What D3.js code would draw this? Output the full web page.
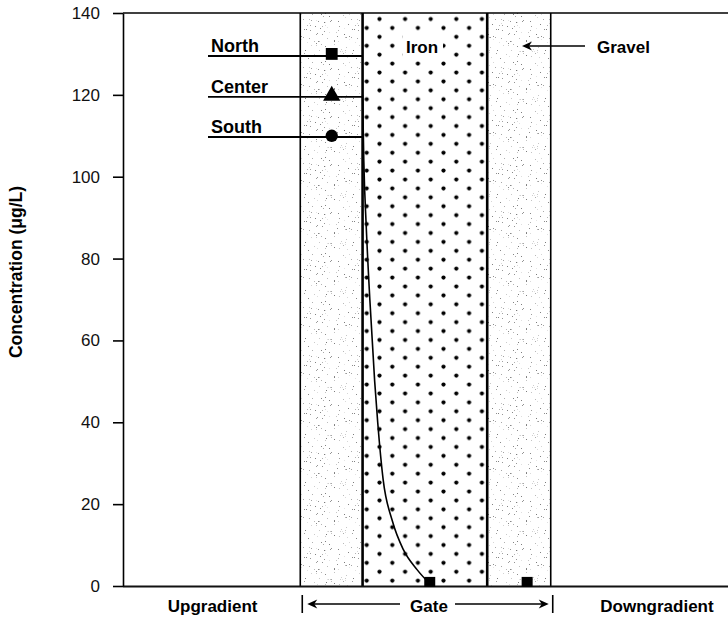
<!DOCTYPE html>
<html>
<head>
<meta charset="utf-8">
<script src="https://cdn.jsdelivr.net/npm/d3@7"></script>
<style>
  body { margin: 0; background: #fff; }
  svg { display: block; font-family: "Liberation Sans", Arial, Helvetica, sans-serif; }
</style>
</head>
<body>
<svg width="728" height="621"></svg>
<script>
'use strict';

/* concentration through a permeable reactive barrier (gravel / iron / gravel) */

// zone boundaries along the flow path (distance units, 0..100 across the plot)
const zoneEdges = [0, 29.3, 39.6, 60.2, 70.7, 100];
const zoneKinds = ['open', 'gravel', 'iron', 'gravel', 'open'];

// y axis
const yTicks = [0, 20, 40, 60, 80, 100, 120, 140];

// upgradient wells (in the front gravel)
const wellNames  = ['North', 'Center', 'South'];
const wellSymbol = ['square', 'triangle', 'circle'];
const wellX      = [34.5, 34.5, 34.5];
const wellConc   = [130, 120, 110];
const leaderConc = [129.5, 119.5, 109.7];

// samples at the foot of the barrier
const lowX    = [50.7, 66.8];
const lowConc = [1, 1];

// fitted profile through the iron
const profileX    = [39.6, 39.8, 40.2, 40.8, 41.6, 42.1, 43.0, 44.5, 46.3, 48.6, 50.4];
const profileConc = [120, 104, 88, 70, 50, 40, 26, 16, 9, 4, 1];

// bottom labels
const bottomLabels = ['Upgradient', 'Gate', 'Downgradient'];

/**************************************************************************/

var svg = d3.select('svg');
var plotLeft = 123, plotRight = 728, plotTop = 13, plotBottom = 586;

var x = d3.scaleLinear().domain([0, 100]).range([plotLeft, plotRight]);
var y = d3.scaleLinear().domain([0, 140]).range([plotBottom, plotTop]);

var defs = svg.append('defs');

// iron: staggered grid of round dots
var iron = defs.append('pattern')
    .attr('id', 'ironDots')
    .attr('patternUnits', 'userSpaceOnUse')
    .attr('x', 360.3).attr('y', 14.5)
    .attr('width', 25.6).attr('height', 17.83);
iron.append('circle').attr('cx', 19.2).attr('cy', 4.5).attr('r', 2.1).attr('fill', '#000');
iron.append('circle').attr('cx', 6.4).attr('cy', 13.42).attr('r', 2.1).attr('fill', '#000');

// gravel: fine grey stipple, positions from a fixed hash so the texture is stable
var gravel = defs.append('pattern')
    .attr('id', 'gravelStipple')
    .attr('patternUnits', 'userSpaceOnUse')
    .attr('width', 48).attr('height', 48);
function hash(n) {
  var s = Math.sin(n * 127.1 + 311.7) * 43758.5453;
  return s - Math.floor(s);
}
for (var i = 0; i < 85; i++) {
  var g = Math.round(120 + hash(i + 0.5) * 110);
  gravel.append('rect')
      .attr('x', Math.floor(hash(i * 3.1) * 48))
      .attr('y', Math.floor(hash(i * 7.7 + 2) * 48))
      .attr('width', 1).attr('height', 1)
      .attr('fill', d3.rgb(g, g, g));
}

// zone fills
zoneKinds.forEach(function (kind, i) {
  if (kind === 'open') return;
  svg.append('rect')
      .attr('x', x(zoneEdges[i]))
      .attr('y', plotTop)
      .attr('width', x(zoneEdges[i + 1]) - x(zoneEdges[i]))
      .attr('height', plotBottom - plotTop)
      .attr('fill', kind === 'iron' ? 'url(#ironDots)' : 'url(#gravelStipple)');
});

// white patch behind the Iron label
svg.append('rect')
    .attr('x', 403).attr('y', 34).attr('width', 40).attr('height', 24)
    .attr('fill', '#fff');

// zone boundaries
[1, 2, 3, 4].forEach(function (i) {
  svg.append('line')
      .attr('x1', x(zoneEdges[i])).attr('x2', x(zoneEdges[i]))
      .attr('y1', plotTop).attr('y2', plotBottom)
      .attr('stroke', '#000')
      .attr('stroke-width', zoneKinds[i] === 'iron' || zoneKinds[i - 1] === 'iron' ? 2.6 : 1.6);
});

// top and bottom frame lines
svg.append('line')
    .attr('x1', plotLeft).attr('x2', plotRight).attr('y1', plotTop).attr('y2', plotTop)
    .attr('stroke', '#000').attr('stroke-width', 1.6);
svg.append('line')
    .attr('x1', plotLeft).attr('x2', plotRight).attr('y1', plotBottom + 0.5).attr('y2', plotBottom + 0.5)
    .attr('stroke', '#111').attr('stroke-width', 2);

// y axis
var yAxis = svg.append('g')
    .attr('transform', 'translate(' + plotLeft + ',0)')
    .call(d3.axisLeft(y).tickValues(yTicks).tickSize(10).tickSizeOuter(0).tickPadding(13));
yAxis.select('.domain').attr('stroke', '#000').attr('stroke-width', 1.6);
yAxis.selectAll('.tick line').attr('stroke', '#000').attr('stroke-width', 1.6);
yAxis.selectAll('.tick text')
    .attr('font-size', 17)
    .attr('font-family', '"Liberation Sans", Arial, Helvetica, sans-serif')
    .attr('fill', '#111');

svg.append('text')
    .attr('transform', 'translate(22,272) rotate(-90)')
    .attr('text-anchor', 'middle')
    .attr('font-size', 17.5)
    .attr('font-weight', 'bold')
    .text('Concentration (\u03bcg/L)');

// concentration profile
var profile = profileX.map(function (d, i) { return [d, profileConc[i]]; });
svg.append('path')
    .datum(profile)
    .attr('fill', 'none')
    .attr('stroke', '#000')
    .attr('stroke-width', 1.6)
    .attr('d', d3.line()
        .x(function (d) { return x(d[0]); })
        .y(function (d) { return y(d[1]); })
        .curve(d3.curveMonotoneX));

// well legend leaders and labels
wellNames.forEach(function (name, i) {
  svg.append('line')
      .attr('x1', 208).attr('x2', x(zoneEdges[2]))
      .attr('y1', y(leaderConc[i])).attr('y2', y(leaderConc[i]))
      .attr('stroke', '#000').attr('stroke-width', 1.8);
  svg.append('text')
      .attr('x', 211).attr('y', y(leaderConc[i]) - 4)
      .attr('font-size', 18)
      .attr('font-weight', 'bold')
      .text(name);
});

// markers
var symbolType = { square: d3.symbolSquare, triangle: d3.symbolTriangle, circle: d3.symbolCircle };
var symbolSize = { square: 140, triangle: 130, circle: 120 };
wellNames.forEach(function (name, i) {
  var s = wellSymbol[i];
  svg.append('path')
      .attr('transform', 'translate(' + x(wellX[i]) + ',' + (y(wellConc[i]) + (s === 'triangle' ? 1 : 0)) + ')')
      .attr('d', d3.symbol().type(symbolType[s]).size(symbolSize[s]))
      .attr('fill', '#000');
});
lowX.forEach(function (d, i) {
  svg.append('rect')
      .attr('x', x(d) - 5.5).attr('y', y(lowConc[i]) - 5)
      .attr('width', 11).attr('height', 10)
      .attr('fill', '#000');
});

// zone labels
svg.append('text')
    .attr('x', 422).attr('y', 53)
    .attr('text-anchor', 'middle')
    .attr('font-size', 17).attr('font-weight', 'bold')
    .text('Iron');

function arrow(x1, x2, yy) {
  var dir = x2 > x1 ? 1 : -1;
  svg.append('line')
      .attr('x1', x1).attr('x2', x2 - dir * 6).attr('y1', yy).attr('y2', yy)
      .attr('stroke', '#000').attr('stroke-width', 1.3);
  svg.append('path')
      .attr('d', 'M' + x2 + ',' + yy + 'L' + (x2 - dir * 10) + ',' + (yy - 4.5) +
                 'L' + (x2 - dir * 7) + ',' + yy + 'L' + (x2 - dir * 10) + ',' + (yy + 4.5) + 'Z')
      .attr('fill', '#000');
}

arrow(585, 522, 46);
svg.append('text')
    .attr('x', 597).attr('y', 53)
    .attr('font-size', 17).attr('font-weight', 'bold')
    .text('Gravel');

// bottom: Upgradient | <- Gate -> | Downgradient
var gateL = x(zoneEdges[1]) + 2, gateR = x(zoneEdges[4]) + 2;
[gateL, gateR].forEach(function (gx) {
  svg.append('line')
      .attr('x1', gx).attr('x2', gx).attr('y1', 595).attr('y2', 613)
      .attr('stroke', '#000').attr('stroke-width', 1.6);
});
arrow(400, gateL + 5, 604);
arrow(455, gateR - 4, 604);

svg.append('text')
    .attr('x', x((zoneEdges[0] + zoneEdges[1]) / 2) + 1).attr('y', 612)
    .attr('text-anchor', 'middle')
    .attr('font-size', 17).attr('font-weight', 'bold')
    .text(bottomLabels[0]);
svg.append('text')
    .attr('x', 429).attr('y', 612)
    .attr('text-anchor', 'middle')
    .attr('font-size', 17).attr('font-weight', 'bold')
    .text(bottomLabels[1]);
svg.append('text')
    .attr('x', 657).attr('y', 612)
    .attr('text-anchor', 'middle')
    .attr('font-size', 17).attr('font-weight', 'bold')
    .text(bottomLabels[2]);
</script>
</body>
</html>
